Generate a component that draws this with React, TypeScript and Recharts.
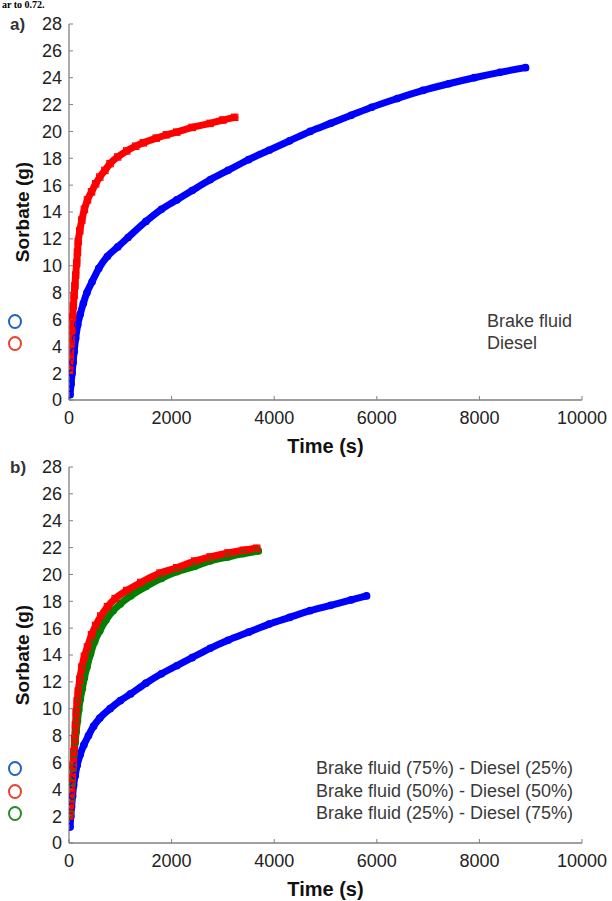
import React from 'react';
import { ComposedChart, Line, XAxis, YAxis } from 'recharts';

const FONT = '"Liberation Sans", Arial, Helvetica, sans-serif';

const X_TICKS = [0, 2000, 4000, 6000, 8000, 10000];
const Y_TICKS = [0, 2, 4, 6, 8, 10, 12, 14, 16, 18, 20, 22, 24, 26, 28];

// Panel a) Brake fluid
const aBrakeTime = [20, 40, 60, 80, 100, 130, 170, 220, 280, 350, 450, 580, 750, 950, 1150, 1500, 1800, 2100, 2400, 2750, 3100, 3500, 3900, 4300, 4700, 5100, 5500, 5900, 6400, 6900, 7400, 7900, 8400, 8900];
const aBrakeSorbate = [0.4, 1.2, 2.0, 2.8, 3.6, 4.6, 5.6, 6.4, 7.2, 8.0, 8.8, 9.8, 10.7, 11.4, 12.1, 13.3, 14.2, 14.9, 15.6, 16.4, 17.1, 17.9, 18.6, 19.3, 20.0, 20.6, 21.2, 21.8, 22.45, 23.05, 23.55, 24.0, 24.4, 24.75];

// Panel a) Diesel
const aDieselTime = [10, 25, 40, 55, 70, 85, 100, 115, 130, 150, 165, 180, 210, 250, 300, 360, 440, 520, 600, 700, 800, 950, 1125, 1300, 1450, 1700, 1900, 2100, 2400, 2750, 3000, 3230];
const aDieselSorbate = [2.2, 3.2, 4.2, 5.2, 6.2, 7.0, 7.8, 8.5, 9.3, 10.2, 11.0, 11.8, 12.6, 13.4, 14.2, 14.9, 15.5, 16.1, 16.6, 17.1, 17.6, 18.1, 18.55, 18.9, 19.15, 19.5, 19.75, 19.95, 20.3, 20.6, 20.85, 21.05];

// Panel b) Brake fluid (75%) - Diesel (25%)
const b75Time = [20, 35, 50, 70, 90, 120, 160, 220, 290, 380, 480, 600, 800, 1000, 1200, 1500, 1800, 2100, 2400, 2750, 3100, 3500, 3900, 4300, 4700, 5100, 5500, 5800];
const b75Sorbate = [1.2, 2.0, 2.7, 3.5, 4.3, 5.0, 5.8, 6.6, 7.3, 8.0, 8.7, 9.3, 10.0, 10.6, 11.1, 11.9, 12.6, 13.2, 13.8, 14.5, 15.1, 15.7, 16.3, 16.8, 17.3, 17.7, 18.1, 18.4];

// Panel b) Brake fluid (50%) - Diesel (50%)
const b50Time = [15, 30, 50, 65, 80, 95, 110, 125, 140, 160, 180, 210, 250, 300, 360, 440, 520, 620, 750, 900, 1125, 1400, 1775, 2100, 2450, 2750, 3100, 3400, 3660];
const b50Sorbate = [2.0, 2.8, 3.8, 4.8, 5.8, 6.8, 7.8, 8.8, 9.7, 10.6, 11.3, 12.2, 13.1, 13.9, 14.6, 15.5, 16.2, 16.9, 17.6, 18.2, 18.8, 19.4, 20.1, 20.5, 21.0, 21.3, 21.6, 21.8, 21.95];

// Panel b) Brake fluid (25%) - Diesel (75%)
const b25Time = [20, 40, 60, 80, 100, 120, 140, 165, 190, 220, 260, 300, 350, 420, 500, 600, 720, 860, 1000, 1200, 1500, 1800, 2100, 2450, 2750, 3100, 3400, 3690];
const b25Sorbate = [2.2, 3.3, 4.5, 5.6, 6.6, 7.5, 8.3, 9.1, 9.9, 10.7, 11.5, 12.3, 13.1, 14.1, 15.0, 15.8, 16.6, 17.3, 17.8, 18.4, 19.1, 19.7, 20.2, 20.6, 21.0, 21.3, 21.55, 21.75];

const legendA = ['Brake fluid', 'Diesel'];
const legendB = ['Brake fluid (75%) - Diesel (25%)', 'Brake fluid (50%) - Diesel (50%)', 'Brake fluid (25%) - Diesel (75%)'];

const toRows = (t: number[], v: number[]) => t.map((x, i) => ({ t: x, v: v[i] }));

type Series = { name: string; rows: { t: number; v: number }[]; color: string; shape: 'circle' | 'square' };

const makeDot = (color: string, shape: 'circle' | 'square') => (p: any) => {
  const k = `d-${p.index}`;
  if (p.cx == null || p.cy == null) return <g key={k} />;
  if (shape === 'square') {
    return <rect key={k} x={p.cx - 3.2} y={p.cy - 3.2} width={6.4} height={6.4} fill="none" stroke={color} strokeWidth={1.1} />;
  }
  return <circle key={k} cx={p.cx} cy={p.cy} r={3.3} fill="none" stroke={color} strokeWidth={1.1} />;
};

const Panel = ({ series, top }: { series: Series[]; top: number }) => (
  <div style={{ position: 'absolute', left: 0, top, width: 612, height: 470 }}>
    <ComposedChart width={612} height={470} margin={{ top: 24, right: 30, bottom: 0, left: 9 }}>
      <XAxis
        type="number"
        dataKey="t"
        domain={[0, 10000]}
        ticks={X_TICKS}
        allowDataOverflow
        height={70}
        tickSize={-4}
        tickMargin={15}
        axisLine={{ stroke: '#808080', strokeWidth: 1.3 }}
        tickLine={{ stroke: '#808080' }}
        tick={{ fontSize: 18, fill: '#222', fontFamily: FONT }}
        label={{ value: 'Time (s)', position: 'insideBottom', offset: 17, style: { fontSize: 20, fontWeight: 'bold', fill: '#111', fontFamily: FONT } }}
      />
      <YAxis
        type="number"
        dataKey="v"
        domain={[0, 28]}
        ticks={Y_TICKS}
        width={60}
        tickSize={-4}
        tickMargin={11}
        axisLine={{ stroke: '#808080', strokeWidth: 1.3 }}
        tickLine={{ stroke: '#808080' }}
        tick={{ fontSize: 18, fill: '#222', fontFamily: FONT }}
        label={{ value: 'Sorbate (g)', angle: -90, position: 'insideLeft', offset: 13, style: { fontSize: 19, fontWeight: 'bold', fill: '#111', fontFamily: FONT, textAnchor: 'middle' } }}
      />
      {series.map((s) => (
        <Line
          key={s.name}
          name={s.name}
          data={s.rows}
          dataKey="v"
          type="monotone"
          stroke={s.color}
          strokeWidth={7}
          strokeLinecap="round"
          dot={makeDot(s.color, s.shape)}
          activeDot={false}
          isAnimationActive={false}
        />
      ))}
    </ComposedChart>
  </div>
);

const LegendBlock = ({ labels, colors, textLeft, firstCenter, step }: { labels: string[]; colors: string[]; textLeft: number; firstCenter: number; step: number }) => (
  <>
    {labels.map((lab, i) => (
      <React.Fragment key={lab}>
        <div
          style={{
            position: 'absolute',
            left: 8,
            top: firstCenter + i * step - 7,
            width: 10,
            height: 11,
            border: `2.5px solid ${colors[i]}`,
            borderRadius: '50%',
          }}
        />
        <div
          style={{
            position: 'absolute',
            left: textLeft,
            top: firstCenter + i * step - 11,
            height: 22,
            lineHeight: '22px',
            fontSize: 18,
            fontFamily: FONT,
            color: '#3a3a3a',
            whiteSpace: 'nowrap',
          }}
        >
          {lab}
        </div>
      </React.Fragment>
    ))}
  </>
);

export default function App() {
  const seriesA: Series[] = [
    { name: legendA[0], rows: toRows(aBrakeTime, aBrakeSorbate), color: '#0000ff', shape: 'circle' },
    { name: legendA[1], rows: toRows(aDieselTime, aDieselSorbate), color: '#ff0000', shape: 'square' },
  ];
  const seriesB: Series[] = [
    { name: legendB[0], rows: toRows(b75Time, b75Sorbate), color: '#0000ff', shape: 'circle' },
    { name: legendB[2], rows: toRows(b25Time, b25Sorbate), color: '#008000', shape: 'circle' },
    { name: legendB[1], rows: toRows(b50Time, b50Sorbate), color: '#ff0000', shape: 'square' },
  ];
  return (
    <div style={{ position: 'absolute', left: 0, top: 0, width: 612, height: 901, overflow: 'hidden', background: '#fff' }}>
      <div
        style={{
          position: 'absolute',
          left: 2,
          top: 0,
          fontFamily: '"Liberation Serif", "Times New Roman", serif',
          fontWeight: 'bold',
          fontSize: 10,
          lineHeight: '10px',
          whiteSpace: 'nowrap',
        }}
      >
        ar to 0.72.
      </div>
      <Panel series={seriesA} top={0} />
      <Panel series={seriesB} top={443} />
      <div style={{ position: 'absolute', left: 10, top: 14, fontSize: 17, fontWeight: 'bold', fontFamily: FONT, color: '#333', lineHeight: '22px' }}>a)</div>
      <div style={{ position: 'absolute', left: 10, top: 457, fontSize: 17, fontWeight: 'bold', fontFamily: FONT, color: '#333', lineHeight: '22px' }}>b)</div>
      <LegendBlock labels={legendA} colors={['#1f63c8', '#e8412c']} textLeft={487} firstCenter={321} step={22} />
      <LegendBlock labels={legendB} colors={['#1f63c8', '#e8412c', '#2a8a2a']} textLeft={316} firstCenter={768} step={22.5} />
    </div>
  );
}
